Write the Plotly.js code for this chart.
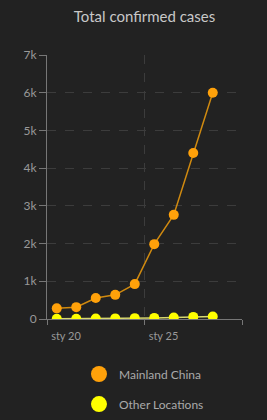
<!DOCTYPE html>
<html>
<head>
<meta charset="utf-8">
<script src="https://cdn.plot.ly/plotly-3.0.1.min.js"></script>
<style>
  html, body { margin: 0; padding: 0; background: #222222; }
  #chart { width: 267px; height: 420px; }
</style>
</head>
<body>
<div id="chart"></div>
<script>
// Data
const dates = ['2020-01-20 12:00', '2020-01-21 12:00', '2020-01-22 12:00', '2020-01-23 12:00',
               '2020-01-24 12:00', '2020-01-25 12:00', '2020-01-26 12:00', '2020-01-27 12:00',
               '2020-01-28 12:00'];
const mainlandChina = [282, 314, 555, 640, 925, 1985, 2761, 4400, 5997];
const otherLocations = [4, 5, 10, 16, 23, 29, 37, 56, 68];
const seriesNames = ['Mainland China', 'Other Locations'];
const tickDates = ['2020-01-20', '2020-01-25', '2020-01-30'];
const tickLabels = ['sty 20', 'sty 25', ''];
const yTickVals = [0, 1000, 2000, 3000, 4000, 5000, 6000, 7000];
const yTickText = ['0', '1k', '2k', '3k', '4k', '5k', '6k', '7k'];

const FONT = 'Lato, "Noto Sans", sans-serif';
const orange = '#FFA10A';
const orangeLine = '#D08A10';
const yellow = '#FFFF00';
const yellowLine = '#D8D870';

const traces = [
  {
    x: dates, y: otherLocations, type: 'scatter', mode: 'lines+markers',
    name: seriesNames[1], showlegend: false,
    line: { color: yellowLine, width: 1.5 },
    marker: { color: yellow, size: 10 }
  },
  {
    x: dates, y: mainlandChina, type: 'scatter', mode: 'lines+markers',
    name: seriesNames[0], showlegend: false,
    line: { color: orangeLine, width: 1.5 },
    marker: { color: orange, size: 10 }
  },
  {
    x: [null], y: [null], type: 'scatter', mode: 'markers',
    name: seriesNames[0], legend: 'legend',
    marker: { color: orange, size: 16 }
  },
  {
    x: [null], y: [null], type: 'scatter', mode: 'markers',
    name: seriesNames[1], legend: 'legend2',
    marker: { color: yellow, size: 16 }
  }
];

const layout = {
  width: 267, height: 420,
  paper_bgcolor: '#222222', plot_bgcolor: '#222222',
  margin: { l: 47, r: 25, t: 55, b: 101, autoexpand: false },
  font: { family: FONT, color: '#999999', size: 11 },
  title: {
    text: 'Total confirmed cases',
    font: { family: FONT, size: 15, color: '#c8c8c8' },
    x: 0.5, xref: 'paper', xanchor: 'center',
    y: 0.96, yref: 'container', yanchor: 'middle'
  },
  xaxis: {
    type: 'date',
    range: ['2020-01-20', '2020-01-30'],
    tickvals: tickDates, ticktext: tickLabels,
    ticks: 'outside', ticklen: 5, tickcolor: '#777777',
    ticklabelshift: 19, ticklabelstandoff: 2,
    showline: true, linecolor: '#777777', linewidth: 1,
    showgrid: true, gridcolor: '#3c3c3c', griddash: 'dash', gridwidth: 1,
    zeroline: false,
    tickfont: { family: FONT, size: 11, color: '#999999' },
    fixedrange: true
  },
  yaxis: {
    range: [0, 7000],
    tickvals: yTickVals, ticktext: yTickText,
    ticks: 'outside', ticklen: 7, tickcolor: '#777777',
    showline: true, linecolor: '#777777', linewidth: 1,
    showgrid: true, gridcolor: '#3c3c3c', griddash: 'dash', gridwidth: 1,
    zeroline: false,
    tickfont: { family: FONT, size: 12, color: '#999999' },
    fixedrange: true
  },
  legend: {
    x: 0.164, xanchor: 'left', y: 0.1095, yanchor: 'middle', yref: 'container',
    bgcolor: 'rgba(0,0,0,0)',
    font: { family: FONT, size: 12, color: '#aaaaaa' },
    itemwidth: 30
  },
  legend2: {
    x: 0.164, xanchor: 'left', y: 0.038, yanchor: 'middle', yref: 'container',
    bgcolor: 'rgba(0,0,0,0)',
    font: { family: FONT, size: 12, color: '#aaaaaa' },
    itemwidth: 30
  },
  showlegend: true
};

Plotly.newPlot('chart', traces, layout, { displayModeBar: false, staticPlot: true });
</script>
</body>
</html>
